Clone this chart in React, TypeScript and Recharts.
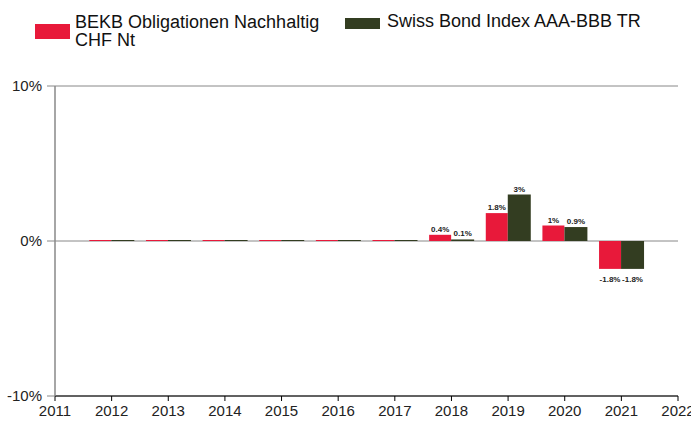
import React from 'react';
import { BarChart, Bar, XAxis, YAxis, CartesianGrid, Legend, LabelList } from 'recharts';

const years = [2012, 2013, 2014, 2015, 2016, 2017, 2018, 2019, 2020, 2021];
const fundValues = [0, 0, 0, 0, 0, 0, 0.4, 1.8, 1.0, -1.8];
const indexValues = [0, 0, 0, 0, 0, 0, 0.1, 3.0, 0.9, -1.8];
const fundLabels = ['', '', '', '', '', '', '0.4%', '1.8%', '1%', '-1.8%'];
const indexLabels = ['', '', '', '', '', '', '0.1%', '3%', '0.9%', '-1.8%'];
const xTicks = [2011, 2012, 2013, 2014, 2015, 2016, 2017, 2018, 2019, 2020, 2021, 2022];
const yTicks = [-10, 0, 10];
const fundName = 'BEKB Obligationen Nachhaltig CHF Nt';
const indexName = 'Swiss Bond Index AAA-BBB TR';

const RED = '#E8193A';
const GREEN = '#333D21';
const FONT = '"Liberation Sans", Arial, sans-serif';

const data = years.map((y, i) => ({
  year: y,
  fund: fundValues[i],
  index: indexValues[i],
  fundLabel: fundLabels[i],
  indexLabel: indexLabels[i],
}));

const makeLabel = (key: 'fundLabel' | 'indexLabel') => (props: any) => {
  const { x, y, width, height, index } = props;
  const d = data[index];
  const text = d ? d[key] : '';
  if (!text) return null;
  const v = key === 'fundLabel' ? d.fund : d.index;
  const cx = x + width / 2;
  const top = Math.min(y, y + height);
  const bottom = Math.max(y, y + height);
  const ty = v >= 0 ? top - 3 : bottom + 13;
  return (
    <text x={cx} y={ty} textAnchor="middle" fontSize={8} fontWeight="bold" fill="#222" fontFamily={FONT}>
      {text}
    </text>
  );
};

const LegendContent = () => (
  <svg width={691} height={60} style={{ display: 'block' }}>
    <rect x={35} y={24} width={35} height={15} fill={RED} />
    <text x={75} y={28} fontSize={18} fill="#111" fontFamily={FONT}>BEKB Obligationen Nachhaltig</text>
    <text x={75} y={46} fontSize={18} fill="#111" fontFamily={FONT}>CHF Nt</text>
    <rect x={345} y={18} width={35} height={11} fill={GREEN} />
    <text x={387} y={27} fontSize={18} fill="#111" fontFamily={FONT}>Swiss Bond Index AAA-BBB TR</text>
  </svg>
);

export default function App() {
  return (
    <div style={{ position: 'absolute', left: 0, top: 0, width: 691, height: 425, background: '#fff' }}>
      <BarChart
        width={691}
        height={425}
        data={data}
        margin={{ top: 86, right: 13, bottom: 0, left: 0 }}
        barGap={0}
        barCategoryGap={0}
      >
        <CartesianGrid horizontal vertical={false} stroke="#888" strokeWidth={1} />
        <XAxis
          dataKey="year"
          type="number"
          domain={[2011, 2022]}
          ticks={xTicks}
          interval={0}
          height={29}
          axisLine={{ stroke: '#000', strokeWidth: 1 }}
          tickLine={{ stroke: '#000' }}
          tickSize={5}
          tickMargin={4}
          tick={{ fontSize: 15, fill: '#222', fontFamily: FONT }}
          allowDecimals={false}
        />
        <YAxis
          type="number"
          domain={[-10, 10]}
          ticks={yTicks}
          width={55}
          axisLine={{ stroke: '#888', strokeWidth: 1.5 }}
          tickLine={{ stroke: '#888' }}
          tickSize={8}
          tickMargin={5}
          tickFormatter={(v: number) => `${v}%`}
          tick={{ fontSize: 15, fill: '#222', fontFamily: FONT }}
        />
        <Legend
          verticalAlign="middle"
          align="center"
          layout="horizontal"
          wrapperStyle={{ position: 'absolute', top: 0, left: 0, width: 691, height: 60 }}
          content={<LegendContent />}
        />
        <Bar dataKey="fund" name={fundName} fill={RED} barSize={22} minPointSize={1} isAnimationActive={false}>
          <LabelList dataKey="fundLabel" content={makeLabel('fundLabel')} />
        </Bar>
        <Bar dataKey="index" name={indexName} fill={GREEN} barSize={23} minPointSize={1} isAnimationActive={false}>
          <LabelList dataKey="indexLabel" content={makeLabel('indexLabel')} />
        </Bar>
      </BarChart>
    </div>
  );
}
